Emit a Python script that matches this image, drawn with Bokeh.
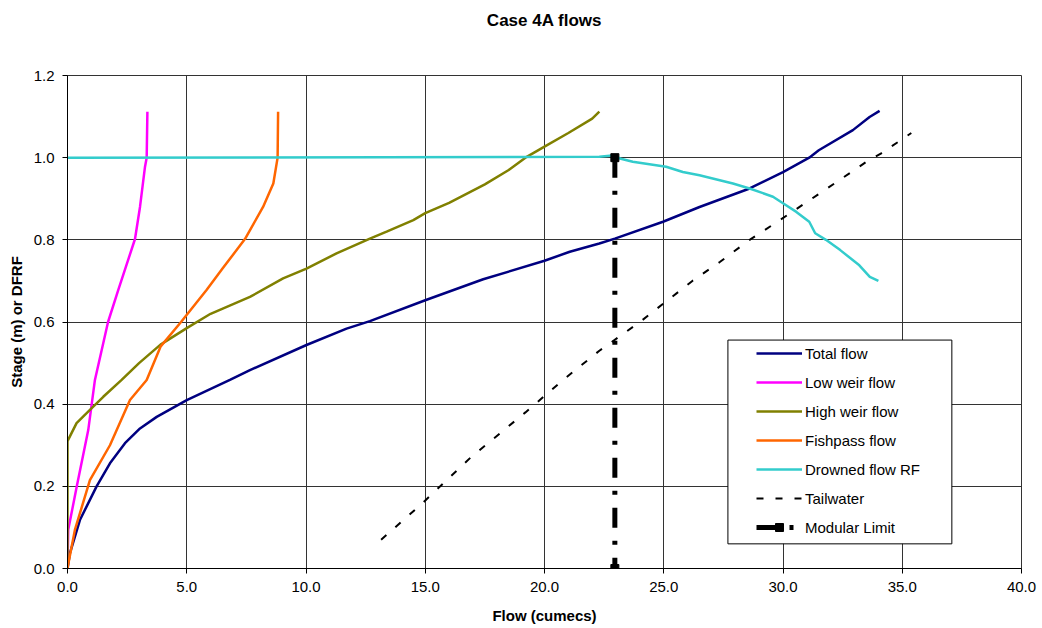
from bokeh.plotting import figure
from bokeh.models import (Range1d, FixedTicker, PrintfTickFormatter, Legend,
                          LegendItem, BoxAnnotation, LinearAxis)
from bokeh.embed import file_html
from bokeh.resources import INLINE

# ---------------- data ----------------
title_text = "Case 4A flows"
x_ticks = [0, 5, 10, 15, 20, 25, 30, 35, 40]
y_ticks = [0.0, 0.2, 0.4, 0.6, 0.8, 1.0, 1.2]

total_x = [0, 0.1, 0.52, 1.22, 1.78, 2.41, 3.04, 3.74, 5.0, 6.81, 7.65, 10.02,
           11.7, 12.68, 15.0, 17.43, 20.0, 21.06, 22.3, 22.95, 24.97, 26.5,
           28.6, 30.0, 31.1, 31.5, 32.93, 33.63, 34.05]
total_y = [0, 0.037, 0.118, 0.2, 0.256, 0.305, 0.341, 0.369, 0.41, 0.459, 0.483,
           0.544, 0.584, 0.602, 0.653, 0.704, 0.749, 0.771, 0.791, 0.803, 0.844,
           0.88, 0.925, 0.965, 1.0, 1.018, 1.067, 1.099, 1.114]

low_x = [0, 0.03, 0.39, 0.87, 1.15, 1.7, 2.13, 2.83, 3.04, 3.25, 3.32, 3.35]
low_y = [0, 0.094, 0.2, 0.337, 0.459, 0.6, 0.678, 0.802, 0.88, 0.978, 1.0, 1.112]

high_x = [0, 0, 0.38, 0.94, 1.5, 2.27, 3.0, 3.9, 5.0, 6.0, 7.65, 9.04, 10.02,
          11.28, 12.68, 13.38, 14.5, 15.0, 16.0, 17.5, 18.5, 19.2, 20.0, 21.0,
          22.0, 22.3]
high_y = [0, 0.31, 0.354, 0.386, 0.418, 0.459, 0.50, 0.545, 0.585, 0.62, 0.661,
          0.706, 0.73, 0.767, 0.803, 0.82, 0.848, 0.865, 0.89, 0.935, 0.97, 1.0,
          1.027, 1.06, 1.095, 1.112]

fish_x = [0, 0.03, 0.31, 0.94, 1.78, 2.62, 3.32, 3.9, 4.76, 5.83, 6.5, 7.44,
          8.2, 8.63, 8.81, 8.83]
fish_y = [0, 0.01, 0.094, 0.215, 0.3, 0.41, 0.459, 0.54, 0.6, 0.678, 0.73,
          0.802, 0.88, 0.937, 1.0, 1.112]

drown_x = [0, 22.3, 22.95, 23.16, 23.7, 25.1, 25.8, 26.5, 27.9, 28.6, 29.58,
           30.0, 30.56, 31.1, 31.35, 31.8, 32.4, 33.2, 33.64, 34.0]
drown_y = [1.0, 1.002, 1.006, 0.998, 0.99, 0.978, 0.965, 0.957, 0.937, 0.925,
           0.905, 0.889, 0.868, 0.844, 0.816, 0.8, 0.775, 0.738, 0.71, 0.7]

tail_x = [13.15, 14.9, 16.9, 19.2, 20.8, 22.3, 24.0, 25.1, 26.2, 27.35, 28.6,
          29.87, 31.1, 32.23, 33.5, 34.1, 35.38]
tail_y = [0.07, 0.16, 0.27, 0.38, 0.46, 0.53, 0.60, 0.65, 0.70, 0.746, 0.80,
          0.848, 0.896, 0.94, 0.99, 1.01, 1.06]

mod_x = [22.95, 22.95]
mod_y = [1.0, 0.0]

FONT = "Liberation Sans"

p = figure(frame_width=954, frame_height=493, title=None,
           x_range=Range1d(0, 40), y_range=Range1d(0, 1.2),
           output_backend="svg", toolbar_location=None,
           min_border_left=67, min_border_right=21,
           min_border_top=75, min_border_bottom=50,
           background_fill_color="white", border_fill_color="white")

xax = p.below[0]
yax = p.left[0]

for ax in (xax, yax):
    ax.major_tick_out = 5
    ax.major_tick_in = 0
    ax.minor_tick_out = 0
    ax.minor_tick_in = 0
    ax.axis_line_color = "black"
    ax.major_tick_line_color = "black"
    ax.major_label_text_font = FONT
    ax.major_label_text_font_size = "15px"
    ax.major_label_text_color = "black"
    ax.axis_label_text_font = FONT
    ax.axis_label_text_font_size = "15px"
    ax.axis_label_text_font_style = "bold"
    ax.axis_label_text_color = "black"
    ax.formatter = PrintfTickFormatter(format="%.1f")

xax.ticker = FixedTicker(ticks=x_ticks)
yax.ticker = FixedTicker(ticks=y_ticks)
xax.axis_label = "Flow (cumecs)"
yax.axis_label = "Stage (m) or DFRF"
xax.major_label_standoff = 8
yax.major_label_standoff = 8
xax.axis_label_standoff = 12
yax.axis_label_standoff = 6

# chart title drawn as the label of a bare axis above the frame
top_axis = LinearAxis(ticker=FixedTicker(ticks=[]), axis_label=title_text)
top_axis.axis_line_alpha = 0
top_axis.major_tick_out = 0
top_axis.minor_tick_out = 0
top_axis.axis_label_text_font = FONT
top_axis.axis_label_text_font_size = "17px"
top_axis.axis_label_text_font_style = "bold"
top_axis.axis_label_text_color = "black"
top_axis.axis_label_standoff = 46
p.add_layout(top_axis, "above")

p.xgrid.ticker = FixedTicker(ticks=x_ticks)
p.ygrid.ticker = FixedTicker(ticks=y_ticks)
p.grid.grid_line_color = "#333333"
p.grid.grid_line_width = 1
p.outline_line_color = "#333333"

lw = 2.5
r_total = p.line(total_x, total_y, line_color="#000080", line_width=lw)
r_low = p.line(low_x, low_y, line_color="#FF00FF", line_width=lw)
r_high = p.line(high_x, high_y, line_color="#808000", line_width=lw)
r_fish = p.line(fish_x, fish_y, line_color="#FF6600", line_width=lw)
r_drown = p.line(drown_x, drown_y, line_color="#33CCCC", line_width=lw)
r_tail = p.line(tail_x, tail_y, line_color="black", line_width=2,
                line_dash="7 12")
r_mod = p.line(mod_x, mod_y, line_color="black", line_width=5,
               line_dash="20 13 4 13")
r_mod_m = p.scatter(mod_x, mod_y, marker="square", size=8,
                    fill_color="black", line_color="black")

box = BoxAnnotation(left=27.69, right=37.08, bottom=0.06, top=0.556,
                    fill_color="white", fill_alpha=1.0,
                    line_color="black", line_width=1, line_alpha=1.0)
p.add_layout(box)

legend = Legend(items=[
    LegendItem(label="Total flow", renderers=[r_total]),
    LegendItem(label="Low weir flow", renderers=[r_low]),
    LegendItem(label="High weir flow", renderers=[r_high]),
    LegendItem(label="Fishpass flow", renderers=[r_fish]),
    LegendItem(label="Drowned flow RF", renderers=[r_drown]),
    LegendItem(label="Tailwater", renderers=[r_tail]),
    LegendItem(label="Modular Limit", renderers=[r_mod, r_mod_m]),
], location=(689, 31))
legend.margin = 0
legend.padding = 0
legend.border_line_alpha = 0
legend.background_fill_alpha = 0
legend.glyph_width = 46
legend.glyph_height = 20
legend.label_height = 20
legend.spacing = 9
legend.label_standoff = 3
legend.label_text_font = FONT
legend.label_text_font_size = "15px"
legend.label_text_color = "black"
p.add_layout(legend, "center")

open("out.html", "w").write(file_html(p, INLINE))
